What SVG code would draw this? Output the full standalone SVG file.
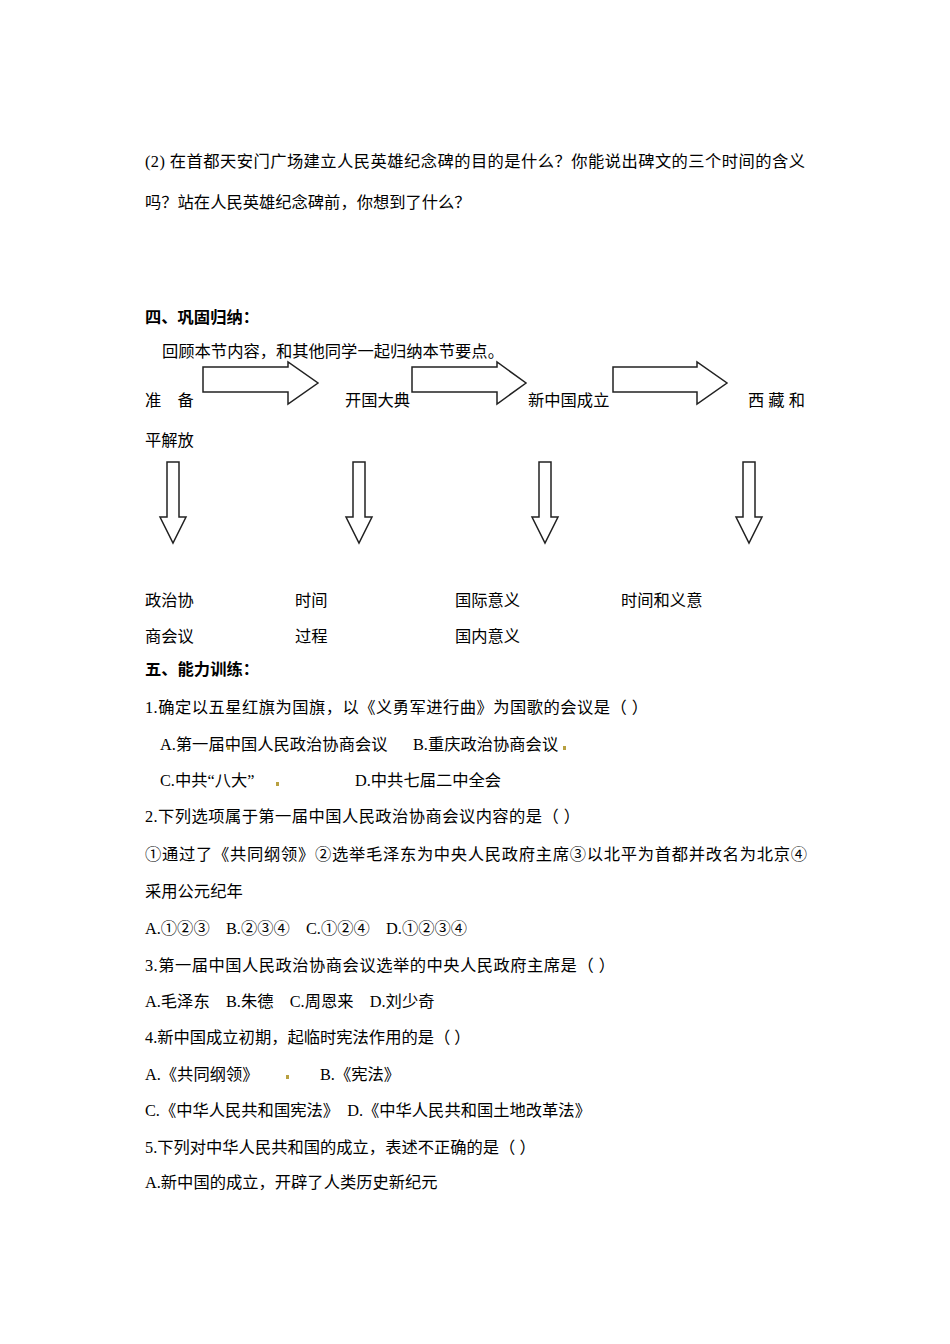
<svg xmlns="http://www.w3.org/2000/svg" width="950" height="1344" viewBox="0 0 950 1344">
<style>
text{font-family:"Liberation Serif","Noto Sans CJK SC",serif;font-size:16.3px;fill:#000}
.b{font-weight:bold}
.ar{fill:#fff;stroke:#222;stroke-width:1.5}
.dot{fill:#b8a040}
</style>
<rect width="950" height="1344" fill="#fff"/>
<g id="text">
<text x="145" y="167" textLength="660" lengthAdjust="spacing">(2) 在首都天安门广场建立人民英雄纪念碑的目的是什么？你能说出碑文的三个时间的含义</text>
<text x="145" y="208">吗？站在人民英雄纪念碑前，你想到了什么？</text>
<text x="145" y="323" class="b">四、巩固归纳：</text>
<text x="162" y="357">回顾本节内容，和其他同学一起归纳本节要点。</text>
<text x="145" y="406">准　备</text>
<text x="345" y="406">开国大典</text>
<text x="528" y="406">新中国成立</text>
<text x="748" y="406">西 藏 和</text>
<text x="145" y="446">平解放</text>
<text x="145" y="606">政治协</text>
<text x="295" y="606">时间</text>
<text x="455" y="606">国际意义</text>
<text x="621" y="606">时间和义意</text>
<text x="145" y="642">商会议</text>
<text x="295" y="642">过程</text>
<text x="455" y="642">国内意义</text>
<text x="145" y="675" class="b">五、能力训练：</text>
<text x="145" y="713" textLength="503" lengthAdjust="spacing">1.确定以五星红旗为国旗，以《义勇军进行曲》为国歌的会议是（ ）</text>
<text x="160" y="750">A.第一届中国人民政治协商会议</text>
<text x="413" y="750">B.重庆政治协商会议</text>
<text x="160" y="786">C.中共“八大”</text>
<text x="355" y="786">D.中共七届二中全会</text>
<text x="145" y="822" textLength="435" lengthAdjust="spacing">2.下列选项属于第一届中国人民政治协商会议内容的是（ ）</text>
<text x="145" y="860" textLength="662" lengthAdjust="spacing">①通过了《共同纲领》②选举毛泽东为中央人民政府主席③以北平为首都并改名为北京④</text>
<text x="145" y="897">采用公元纪年</text>
<text x="145" y="934">A.①②③　B.②③④　C.①②④　D.①②③④</text>
<text x="145" y="971" textLength="470" lengthAdjust="spacing">3.第一届中国人民政治协商会议选举的中央人民政府主席是（ ）</text>
<text x="145" y="1007">A.毛泽东　B.朱德　C.周恩来　D.刘少奇</text>
<text x="145" y="1043">4.新中国成立初期，起临时宪法作用的是（ ）</text>
<text x="145" y="1080">A.《共同纲领》</text>
<text x="320" y="1080">B.《宪法》</text>
<text x="145" y="1116">C.《中华人民共和国宪法》　D.《中华人民共和国土地改革法》</text>
<text x="145" y="1153">5.下列对中华人民共和国的成立，表述不正确的是（ ）</text>
<text x="145" y="1188">A.新中国的成立，开辟了人类历史新纪元</text>
<rect class="dot" x="227" y="746" width="3" height="4"/>
<rect class="dot" x="563" y="746" width="3" height="4"/>
<rect class="dot" x="276" y="782" width="3" height="4"/>
<rect class="dot" x="286" y="1075" width="3" height="4"/>
</g>
<g id="connectors">
<polygon class="ar" points="203,367 288,367 288,362 318,383 288,404 288,392 203,392"/>
<polygon class="ar" points="412,367 497,367 497,362 526,383 497,404 497,392 412,392"/>
<polygon class="ar" points="613,367 697,367 697,362 727,383 697,404 697,392 613,392"/>
<polygon class="ar" points="167,462 179,462 179,517 186,517 173,543 160,517 167,517"/>
<polygon class="ar" points="353,462 365,462 365,517 372,517 359,543 346,517 353,517"/>
<polygon class="ar" points="539,462 551,462 551,517 558,517 545,543 532,517 539,517"/>
<polygon class="ar" points="743,462 755,462 755,517 762,517 749,543 736,517 743,517"/>
</g>
</svg>
